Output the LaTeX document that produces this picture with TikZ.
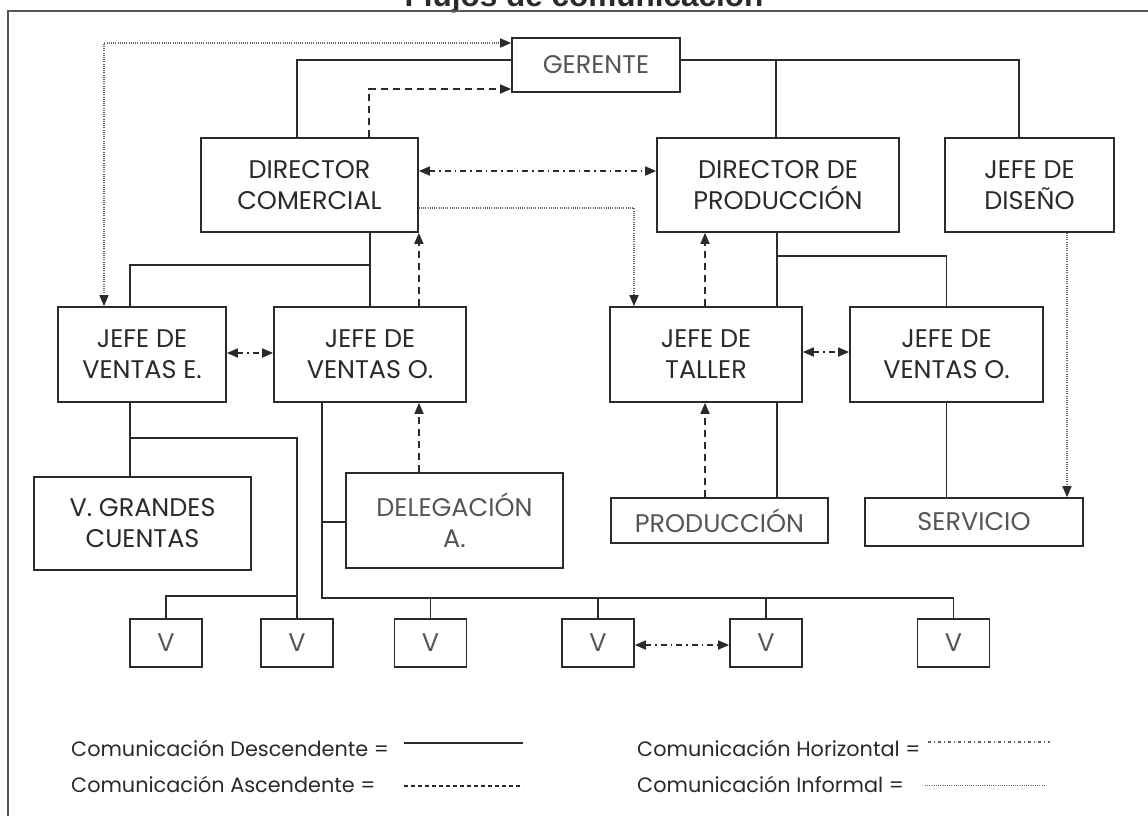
\documentclass[tikz,border=0pt]{standalone}
\usepackage{fontspec}
\setmainfont{Poppins}
\newfontfamily\titlefont{Liberation Sans}
\usetikzlibrary{arrows.meta}
\definecolor{ink}{HTML}{2A2A2A}
\definecolor{softink}{HTML}{555555}
\definecolor{dotgray}{HTML}{666666}
\begin{document}
\begin{tikzpicture}[x=1pt,y=-1pt,
  >={Triangle[length=11pt,width=9pt,color=ink]},
  box/.style={draw=ink,line width=1.7pt,inner sep=0pt,align=center,text=ink,
    font=\fontsize{25.5}{31}\selectfont},
  vbox/.style={box,text=softink,minimum width=72pt,minimum height=48pt},
  desc/.style={draw=ink,line width=1.7pt},
  asc/.style={draw=ink,line width=1.7pt,dash pattern=on 7pt off 5pt},
  horiz/.style={draw=ink,line width=1.7pt,dash pattern=on 6pt off 4pt on 1.5pt off 4pt},
  infor/.style={draw=dotgray,line width=1.6pt,dash pattern=on 1pt off 1.2pt},
  legend/.style={anchor=west,text=ink,inner sep=0pt,font=\fontsize{20.8}{24}\selectfont},
  frame/.style={draw=softink,line width=1.6pt},
]
\useasboundingbox (0,0) rectangle (1148,815);

% title and frame
\node[anchor=base,inner sep=0pt,text=ink,font=\titlefont\bfseries\fontsize{31.5}{36}\selectfont]
  (title) at (584,6) {Flujos de comunicación};
\draw[frame] (8,830) -- (8,11) -- (1160,11);

% boxes
\node[box,text=softink,minimum width=168pt,minimum height=54pt] (ger) at (596,65) {GERENTE};
\node[box,minimum width=217pt,minimum height=94pt] (dc) at (309.5,185) {DIRECTOR\\COMERCIAL};
\node[box,minimum width=242pt,minimum height=94pt] (dp) at (778,185) {DIRECTOR DE\\PRODUCCIÓN};
\node[box,minimum width=169pt,minimum height=94pt] (jd) at (1029.5,185) {JEFE DE\\DISEÑO};
\node[box,minimum width=168pt,minimum height=95pt] (jve) at (142,354.5) {JEFE DE\\VENTAS E.};
\node[box,minimum width=192pt,minimum height=95pt] (jvo) at (370,354.5) {JEFE DE\\VENTAS O.};
\node[box,minimum width=192pt,minimum height=95pt] (jt) at (706,354.5) {JEFE DE\\TALLER};
\node[box,minimum width=193pt,minimum height=95pt] (jvs) at (946.5,354.5) {JEFE DE\\VENTAS O.};
\node[box,minimum width=217pt,minimum height=93pt] (vgc) at (142.5,523.5) {V. GRANDES\\CUENTAS};
\node[box,text=softink,minimum width=217pt,minimum height=95pt] (del) at (454.5,520.5) {DELEGACIÓN\\A.};
\node[box,text=softink,minimum width=217pt,minimum height=45pt] (prod) at (719.5,520.5) {PRODUCCIÓN};
\node[box,text=softink,minimum width=218pt,minimum height=48pt] (serv) at (974,522) {SERVICIO};
\node[vbox] (v1) at (166,643) {V};
\node[vbox] (v2) at (297,643) {V};
\node[vbox] (v3) at (430.5,643) {V};
\node[vbox] (v4) at (598,643) {V};
\node[vbox] (v5) at (766,643) {V};
\node[vbox] (v6) at (953.5,643) {V};

% junctions
\coordinate (gL) at (297,60);
\coordinate (gR) at (1019,60);
\coordinate (gM) at (776,60);
\coordinate (cBus) at (130,265);
\coordinate (pBus) at (777,256);
\coordinate (eBus) at (130,438);
\coordinate (eBus2) at (298,596);
\coordinate (oBus) at (322,598);
\coordinate (oDel) at (322,522);

% downward (solid) lines
\draw[desc] (ger.west |- gL) -- (gL) -- (dc.north -| gL);
\draw[desc] (ger.east |- gR) -- (gR) -- (jd.north -| gR);
\draw[desc] (gM) -- (dp.north -| gM);
\draw[desc] (dc.south -| jvo.north) -- (jvo.north);
\draw[desc] (jve.north -| cBus) -- (cBus) -- (jvo.north |- cBus);
\draw[desc] (jve.south -| eBus) -- (vgc.north -| eBus);
\draw[desc] (eBus) -| (v2.north);
\draw[desc] (v2.north |- eBus2) -| (v1.north);
\draw[desc] (jvo.south -| oBus) -- (oBus) -| (v6.north);
\draw[desc] (oDel) -- (del.west |- oDel);
\foreach \v in {v3,v4,v5} \draw[desc] (\v.north) -- (\v.north |- oBus);
\draw[desc] (dp.south -| pBus) -- (jt.north -| pBus);
\draw[desc] (pBus) -| (jvs.north);
\draw[desc] (jt.south -| pBus) -- (prod.north -| pBus);
\draw[desc] (jvs.south) -- (serv.north -| jvs.south);

% upward (dashed) lines
\draw[asc,->] (dc.north -| 369,0) |- (ger.west |- 0,89);
\draw[asc,->] (jvo.north -| dc.south east) -- (dc.south east);
\draw[asc,->] (del.north -| 419,0) -- (jvo.south -| 419,0);
\draw[asc,->] (jt.north -| 705,0) -- (dp.south -| 705,0);
\draw[asc,->] (prod.north -| 705,0) -- (jt.south -| 705,0);

% horizontal (dash-dot) lines
\draw[horiz,<->] (dc.east |- 0,171) -- (dp.west |- 0,171);
\draw[horiz,<->] (jve.east |- 0,353) -- (jvo.west |- 0,353);
\draw[horiz,<->] (jt.east |- 0,352) -- (jvs.west |- 0,352);
\draw[horiz,<->] (v4.east |- 0,645) -- (v5.west |- 0,645);

% informal (dotted) lines
\draw[infor,<->] (jve.north -| 104,0) |- (ger.west |- 0,43);
\draw[infor,->] (dc.east |- 0,208) -| (jt.north -| 634,0);
\draw[infor,->] (jd.south -| 1067,0) -- (serv.north -| 1067,0);

% legend
\node[legend] (l1) at (71,748) {Comunicación Descendente =};
\node[legend] (l2) at (71,784) {Comunicación Ascendente =};
\node[legend] (l3) at (637,748) {Comunicación Horizontal =};
\node[legend] (l4) at (637,784) {Comunicación Informal =};
\draw[desc] (404,743) -- (523,743);
\draw[asc,dash pattern=on 4pt off 3pt] (404,786) -- (523,786);
\draw[horiz,draw=dotgray,line width=1.2pt,dash pattern=on 3pt off 3pt on 1pt off 3pt] (928,742) -- (1050,742);
\draw[infor,line width=1pt] (925,785) -- (1045,785);
\end{tikzpicture}
\end{document}
